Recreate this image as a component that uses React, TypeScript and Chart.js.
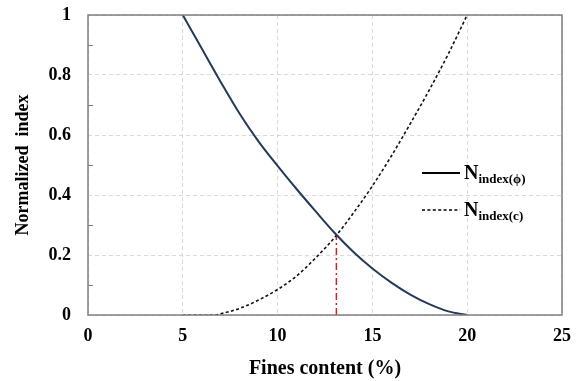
import React, { useEffect, useRef } from "react";
import { Chart, registerables } from "chart.js";

Chart.register(...registerables);

// Fines content (%) for the N_index(phi) curve
const fcPhi = [5, 6, 7, 8, 9, 10, 11, 12, 13, 14, 15, 16, 17, 18, 19, 20];
const nIndexPhi = [1.0, 0.888, 0.777, 0.671, 0.578, 0.497, 0.42, 0.346, 0.274, 0.21, 0.155, 0.108, 0.068, 0.036, 0.012, 0];

// Fines content (%) for the N_index(c) curve
const fcC = [5, 6, 6.7, 7, 8, 9, 10, 11, 12, 13, 14, 15, 16, 17, 18, 19, 20];
const nIndexC = [0, 0, 0, 0.004, 0.022, 0.05, 0.085, 0.13, 0.19, 0.258, 0.34, 0.43, 0.53, 0.638, 0.75, 0.87, 1.0];

// Intersection marker
const intersectFC = 13.1;
const intersectN = 0.265;

const xTicks = [0, 5, 10, 15, 20, 25];
const yMinorTicks = [0.1, 0.3, 0.5, 0.7, 0.9];

const legendSubs = ["index(\u03d5)", "index(c)"];

const FONT = "'Liberation Serif', 'Times New Roman', serif";
const SOLID_COLOR = "#243a5c";

export default function App() {
  const ref = useRef<HTMLCanvasElement | null>(null);

  useEffect(() => {
    document.body.style.margin = "0";
    const canvas = ref.current;
    if (!canvas) return;

    const framePlugin = {
      id: "frame",
      afterDraw(chart: any) {
        const { ctx, chartArea } = chart;
        const { left, top, right, bottom } = chartArea;
        const y = chart.scales.y;
        ctx.save();
        ctx.strokeStyle = "#7f7f7f";
        ctx.lineWidth = 1.5;
        ctx.setLineDash([]);
        ctx.strokeRect(left, top, right - left, bottom - top);
        // minor ticks on y axis
        ctx.lineWidth = 1;
        yMinorTicks.forEach((v) => {
          const py = Math.round(y.getPixelForValue(v)) + 0.5;
          ctx.beginPath();
          ctx.moveTo(left, py);
          ctx.lineTo(left + 5, py);
          ctx.stroke();
        });
        // legend
        const x0 = right - 140;
        const rows = [top + 158, top + 195];
        const styles = [
          { color: "#000000", dash: [] as number[], width: 1.8 },
          { color: "#000000", dash: [3, 2.4], width: 1.5 },
        ];
        rows.forEach((ry, i) => {
          const st = styles[i];
          ctx.strokeStyle = st.color;
          ctx.lineWidth = st.width;
          ctx.setLineDash(st.dash);
          ctx.beginPath();
          ctx.moveTo(x0, ry);
          ctx.lineTo(x0 + 38, ry);
          ctx.stroke();
          ctx.setLineDash([]);
          ctx.fillStyle = "#000";
          ctx.textBaseline = "alphabetic";
          ctx.textAlign = "left";
          ctx.font = `bold 20px ${FONT}`;
          const tx = x0 + 42;
          ctx.fillText("N", tx, ry + 6);
          const nw = ctx.measureText("N").width;
          ctx.font = `bold 13px ${FONT}`;
          ctx.fillText(legendSubs[i], tx + nw, ry + 10);
        });
        ctx.restore();
      },
    };

    const chart = new Chart(canvas, {
      type: "line",
      data: {
        datasets: [
          {
            label: "Nindex(phi)",
            data: fcPhi.map((x, i) => ({ x, y: nIndexPhi[i] })),
            borderColor: SOLID_COLOR,
            borderWidth: 2,
            pointRadius: 0,
            cubicInterpolationMode: "monotone",
            fill: false,
          },
          {
            label: "Nindex(c)",
            data: fcC.map((x, i) => ({ x, y: nIndexC[i] })),
            borderColor: "#111111",
            borderWidth: 1.6,
            borderDash: [3, 2.4],
            pointRadius: 0,
            cubicInterpolationMode: "monotone",
            fill: false,
          },
          {
            label: "intersection",
            data: [
              { x: intersectFC, y: 0 },
              { x: intersectFC, y: intersectN },
            ],
            borderColor: "#d42020",
            borderWidth: 1.5,
            borderDash: [7, 3, 2, 3],
            pointRadius: 0,
            fill: false,
          },
        ],
      },
      options: {
        animation: false,
        responsive: false,
        maintainAspectRatio: false,
        layout: { padding: { left: 0, right: 15, top: 15, bottom: 0 } },
        plugins: {
          legend: { display: false },
          tooltip: { enabled: false },
        },
        scales: {
          x: {
            type: "linear",
            min: 0,
            max: 25,
            afterBuildTicks(scale: any) {
              scale.ticks = xTicks.map((v) => ({ value: v }));
            },
            afterFit(scale: any) {
              scale.height = 66;
              scale.paddingLeft = 0;
              scale.paddingRight = 0;
            },
            ticks: {
              color: "#000",
              font: { family: FONT, size: 18, weight: "bold" },
              padding: 11,
              maxRotation: 0,
            },
            grid: {
              color: "#d9d9d9",
              lineWidth: 1,
              drawTicks: false,
            },
            border: { display: false, dash: [4, 3] },
            title: {
              display: true,
              text: "Fines content (%)",
              color: "#000",
              font: { family: FONT, size: 20, weight: "bold" },
              padding: { top: 4, bottom: 0 },
            },
          },
          y: {
            type: "linear",
            min: 0,
            max: 1,
            ticks: {
              stepSize: 0.2,
              color: "#000",
              font: { family: FONT, size: 18, weight: "bold" },
              padding: 17,
              callback: (v: any) => String(Number(Number(v).toFixed(1))),
            },
            afterFit(scale: any) {
              scale.width = 88;
              scale.paddingTop = 0;
              scale.paddingBottom = 0;
            },
            grid: {
              color: "#d9d9d9",
              lineWidth: 1,
              drawTicks: false,
            },
            border: { display: false, dash: [4, 3] },
            title: {
              display: true,
              text: "Normalized  index",
              color: "#000",
              font: { family: FONT, size: 18, weight: "bold" },
              padding: { top: 13, bottom: 4 },
            },
          },
        },
      } as any,
      plugins: [framePlugin],
    });

    return () => chart.destroy();
  }, []);

  return (
    <div style={{ width: 577, height: 381, position: "relative", background: "#fff" }}>
      <canvas ref={ref} width={577} height={381} style={{ width: 577, height: 381 }} />
    </div>
  );
}
